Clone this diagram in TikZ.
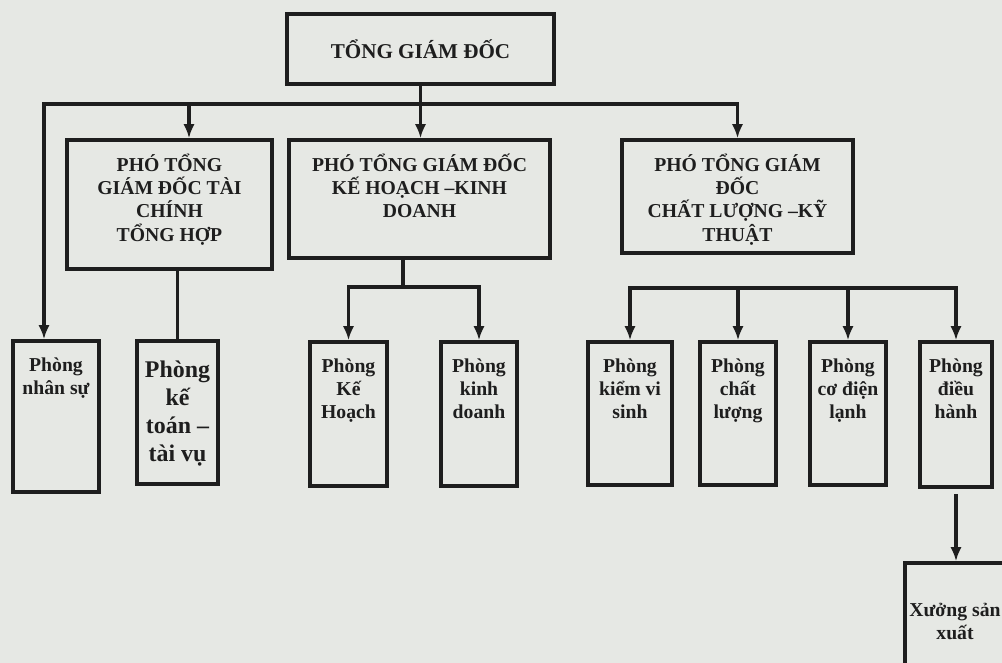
\documentclass[tikz,border=0pt]{standalone}
\usepackage{fontspec}
\setmainfont{Liberation Serif}
\usepackage{tikz}
\usetikzlibrary{arrows.meta}
\definecolor{paper}{HTML}{E6E8E4}
\definecolor{ink}{HTML}{1E1E1E}

\begin{document}
\begin{tikzpicture}[x=0.025cm,y=-0.025cm,>={Latex[length=10pt,width=8pt]},
 font=\bfseries\fontsize{14}{16.5}\selectfont,text=ink,
 box/.style={draw=ink,line width=2.5pt,inner sep=0pt},
 txt/.style={anchor=north,align=center,yshift=-11pt,inner sep=2pt},
 arr/.style={->,draw=ink,line width=2.2pt},line/.style={draw=ink,line width=2.2pt}]
\fill[paper] (0,0) rectangle (1002,663);
\path[use as bounding box] (0,0) rectangle (1002,663);
% top level
\node[box,minimum width=6.675cm,minimum height=1.75cm,font=\bfseries\fontsize{15}{18}\selectfont] (tgd) at (420.5,49) {TỔNG GIÁM ĐỐC};
\node[box,minimum width=5.125cm,minimum height=3.225cm,label={[txt,yshift=2pt]north:PHÓ TỔNG\\GIÁM ĐỐC TÀI\\CHÍNH\\TỔNG HỢP}] (ptc) at (169.5,204.5) {};
\node[box,minimum width=6.525cm,minimum height=2.95cm,label={[txt,yshift=2pt]north:PHÓ TỔNG GIÁM ĐỐC\\KẾ HOẠCH –KINH\\DOANH}] (pkd) at (419.5,199) {};
\node[box,minimum width=5.775cm,minimum height=2.825cm,label={[txt,yshift=2pt]north:PHÓ TỔNG GIÁM\\ĐỐC\\CHẤT LƯỢNG –KỸ\\THUẬT}] (pkt) at (737.5,196.5) {};
% phong ban
\node[box,minimum width=2.15cm,minimum height=3.775cm,label={[txt]north:Phòng\\nhân sự}] (nhansu) at (56,416.5) {};
\node[box,minimum width=2.025cm,minimum height=3.575cm,label={[txt,yshift=-2pt,font=\bfseries\fontsize{17}{20}\selectfont]north:Phòng\\kế\\toán –\\tài vụ}] (ketoan) at (177.5,412.5) {};
\node[box,minimum width=1.925cm,minimum height=3.6cm,label={[txt]north:Phòng\\Kế\\Hoạch}] (kehoach) at (348.5,414) {};
\node[box,minimum width=1.9cm,minimum height=3.6cm,label={[txt]north:Phòng\\kinh\\doanh}] (kinhdoanh) at (479,414) {};
\node[box,minimum width=2.1cm,minimum height=3.575cm,label={[txt]north:Phòng\\kiểm vi\\sinh}] (visinh) at (630,413.5) {};
\node[box,minimum width=1.9cm,minimum height=3.575cm,label={[txt]north:Phòng\\chất\\lượng}] (chatluong) at (738,413.5) {};
\node[box,minimum width=1.9cm,minimum height=3.575cm,label={[txt]north:Phòng\\cơ điện\\lạnh}] (codien) at (848,413.5) {};
\node[box,minimum width=1.8cm,minimum height=3.625cm,label={[txt]north:Phòng\\điều\\hành}] (dieuhanh) at (956,414.5) {};
\node[box,minimum width=2.5cm,minimum height=2.925cm,align=center] (xuong) at (955,621.5) {Xưởng sản\\xuất};
% connectors
\coordinate (busl) at (44,104);
\coordinate (bustc) at (189,104);
\coordinate (buskd) at (403,287);
\coordinate (buskt) at (790,288);
\draw[arr,<->] (busl |- nhansu.north) -- (busl) -- (pkt.north |- busl) -- (pkt.north);
\draw[arr] (tgd.south) -- (tgd.south |- pkd.north);
\draw[arr] (bustc) -- (bustc |- ptc.north);
\draw[line] (ketoan.north |- ptc.south) -- (ketoan.north);
\draw[line] (pkd.south -| buskd) -- (buskd);
\draw[arr,<->] (kehoach.north) |- (buskd) -| (kinhdoanh.north);
\draw[arr,<->] (visinh.north) |- (buskt) -| (dieuhanh.north);
\foreach \n in {chatluong,codien}
  \draw[arr] (\n.north |- buskt) -- (\n.north);
\draw[arr] ([yshift=-4pt]dieuhanh.south) -- (dieuhanh.south |- xuong.north);
\end{tikzpicture}
\end{document}
